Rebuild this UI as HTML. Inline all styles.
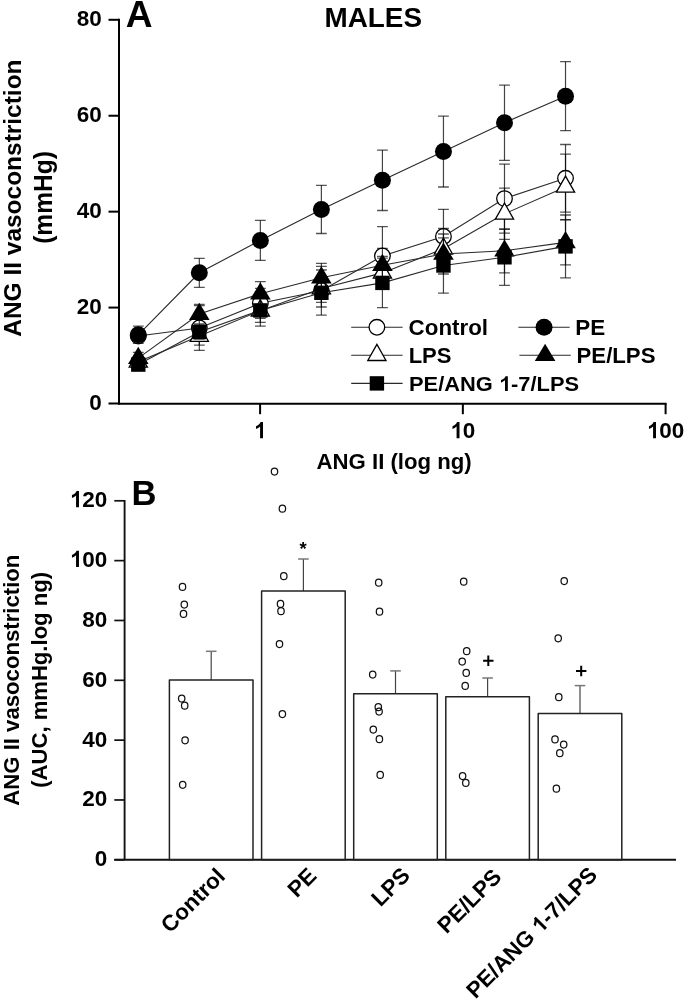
<!DOCTYPE html>
<html><head><meta charset="utf-8"><style>
html,body{margin:0;padding:0;background:#fff;}
svg{display:block;will-change:transform;}
text{font-family:"Liberation Sans",sans-serif;font-weight:bold;fill:#000;}
.m{mix-blend-mode:multiply;}
</style></head><body>
<svg width="685" height="1000" viewBox="0 0 685 1000">
<rect width="685" height="1000" fill="#fff"/>
<line x1="119.0" y1="18.8" x2="119.0" y2="404.5" stroke="#000" stroke-width="2"/>
<line x1="118.0" y1="403.8" x2="666.6" y2="403.8" stroke="#000" stroke-width="2"/>
<line x1="108.5" y1="403.50" x2="119.0" y2="403.50" stroke="#000" stroke-width="2"/>
<g transform="translate(101.65,409.92) scale(0.98,1)"><text font-size="22.96" text-anchor="end">0</text></g>
<line x1="108.5" y1="307.57" x2="119.0" y2="307.57" stroke="#000" stroke-width="2"/>
<g transform="translate(101.65,314.00) scale(0.98,1)"><text font-size="22.96" text-anchor="end">20</text></g>
<line x1="108.5" y1="211.65" x2="119.0" y2="211.65" stroke="#000" stroke-width="2"/>
<g transform="translate(101.65,218.07) scale(0.98,1)"><text font-size="22.96" text-anchor="end">40</text></g>
<line x1="108.5" y1="115.73" x2="119.0" y2="115.73" stroke="#000" stroke-width="2"/>
<g transform="translate(101.65,122.15) scale(0.98,1)"><text font-size="22.96" text-anchor="end">60</text></g>
<line x1="108.5" y1="19.80" x2="119.0" y2="19.80" stroke="#000" stroke-width="2"/>
<g transform="translate(101.65,26.22) scale(0.98,1)"><text font-size="22.96" text-anchor="end">80</text></g>
<line x1="260.10" y1="403.5" x2="260.10" y2="414.2" stroke="#000" stroke-width="2"/>
<g transform="translate(260.10,438.3) scale(0.98,1)"><text font-size="22.96" text-anchor="middle">&#8199;</text><path d="M407 0L278 0L278 515Q200 450 95 405L95 530Q190 565 245 620Q285 665 300 708L407 708Z" transform="translate(-6.39,0) scale(0.02296,-0.02296)"/></g>
<line x1="462.85" y1="403.5" x2="462.85" y2="414.2" stroke="#000" stroke-width="2"/>
<g transform="translate(462.85,438.3) scale(0.98,1)"><text font-size="22.96" text-anchor="middle">&#8199;0</text><path d="M407 0L278 0L278 515Q200 450 95 405L95 530Q190 565 245 620Q285 665 300 708L407 708Z" transform="translate(-12.77,0) scale(0.02296,-0.02296)"/></g>
<line x1="665.60" y1="403.5" x2="665.60" y2="414.2" stroke="#000" stroke-width="2"/>
<g transform="translate(665.60,438.3) scale(0.98,1)"><text font-size="22.96" text-anchor="middle">&#8199;00</text><path d="M407 0L278 0L278 515Q200 450 95 405L95 530Q190 565 245 620Q285 665 300 708L407 708Z" transform="translate(-19.16,0) scale(0.02296,-0.02296)"/></g>
<g transform="translate(125.79,27.27) scale(1.0138,1)"><text font-size="36.62">A</text></g>
<g transform="translate(324.45,27.02) scale(0.9847,1)"><text font-size="28.31">MALES</text></g>
<g transform="translate(316.53,468.91) scale(0.9936,1)"><text font-size="22.34">ANG II (log ng)</text></g>
<g transform="translate(21.01,336.73) rotate(-90) scale(1.0147,1)"><text font-size="24.12">ANG II vasoconstriction</text></g>
<g transform="translate(51.97,243.83) rotate(-90) scale(0.9879,1)"><text font-size="24.89">(mmHg)</text></g>
<polyline points="138.28,336.00 199.32,328.00 260.35,303.30 321.38,290.70 382.42,256.00 443.45,236.50 504.49,198.60 565.52,178.30" fill="none" stroke="#2a2a2a" stroke-width="1.1"/>
<path class="m" d="M138.28 331.00V341.00" stroke="#444" stroke-width="1.2" fill="none"/>
<path class="m" d="M132.88 331.00H143.68M132.88 341.00H143.68" stroke="#555" stroke-width="1.3" fill="none"/>
<path class="m" d="M199.32 305.60V350.40" stroke="#444" stroke-width="1.2" fill="none"/>
<path class="m" d="M193.92 305.60H204.72M193.92 350.40H204.72" stroke="#555" stroke-width="1.3" fill="none"/>
<path class="m" d="M260.35 288.30V318.30" stroke="#444" stroke-width="1.2" fill="none"/>
<path class="m" d="M254.95 288.30H265.75M254.95 318.30H265.75" stroke="#555" stroke-width="1.3" fill="none"/>
<path class="m" d="M321.38 266.30V315.10" stroke="#444" stroke-width="1.2" fill="none"/>
<path class="m" d="M315.98 266.30H326.78M315.98 315.10H326.78" stroke="#555" stroke-width="1.3" fill="none"/>
<path class="m" d="M382.42 226.60V285.40" stroke="#444" stroke-width="1.2" fill="none"/>
<path class="m" d="M377.02 226.60H387.82M377.02 285.40H387.82" stroke="#555" stroke-width="1.3" fill="none"/>
<path class="m" d="M443.45 209.30V263.70" stroke="#444" stroke-width="1.2" fill="none"/>
<path class="m" d="M438.05 209.30H448.85M438.05 263.70H448.85" stroke="#555" stroke-width="1.3" fill="none"/>
<path class="m" d="M504.49 164.10V233.10" stroke="#444" stroke-width="1.2" fill="none"/>
<path class="m" d="M499.09 164.10H509.89M499.09 233.10H509.89" stroke="#555" stroke-width="1.3" fill="none"/>
<path class="m" d="M565.52 144.50V212.10" stroke="#444" stroke-width="1.2" fill="none"/>
<path class="m" d="M560.12 144.50H570.92M560.12 212.10H570.92" stroke="#555" stroke-width="1.3" fill="none"/>
<circle cx="138.28" cy="336.00" r="7.8" fill="#fff" stroke="#000" stroke-width="1.3"/>
<circle cx="199.32" cy="328.00" r="7.8" fill="#fff" stroke="#000" stroke-width="1.3"/>
<circle cx="260.35" cy="303.30" r="7.8" fill="#fff" stroke="#000" stroke-width="1.3"/>
<circle cx="321.38" cy="290.70" r="7.8" fill="#fff" stroke="#000" stroke-width="1.3"/>
<circle cx="382.42" cy="256.00" r="7.8" fill="#fff" stroke="#000" stroke-width="1.3"/>
<circle cx="443.45" cy="236.50" r="7.8" fill="#fff" stroke="#000" stroke-width="1.3"/>
<circle cx="504.49" cy="198.60" r="7.8" fill="#fff" stroke="#000" stroke-width="1.3"/>
<circle cx="565.52" cy="178.30" r="7.8" fill="#fff" stroke="#000" stroke-width="1.3"/>
<polyline points="138.28,334.80 199.32,272.80 260.35,240.40 321.38,209.40 382.42,180.30 443.45,151.60 504.49,122.70 565.52,96.20" fill="none" stroke="#2a2a2a" stroke-width="1.1"/>
<path class="m" d="M138.28 326.20V343.40" stroke="#444" stroke-width="1.2" fill="none"/>
<path class="m" d="M132.88 326.20H143.68M132.88 343.40H143.68" stroke="#555" stroke-width="1.3" fill="none"/>
<path class="m" d="M199.32 258.30V287.30" stroke="#444" stroke-width="1.2" fill="none"/>
<path class="m" d="M193.92 258.30H204.72M193.92 287.30H204.72" stroke="#555" stroke-width="1.3" fill="none"/>
<path class="m" d="M260.35 220.40V260.40" stroke="#444" stroke-width="1.2" fill="none"/>
<path class="m" d="M254.95 220.40H265.75M254.95 260.40H265.75" stroke="#555" stroke-width="1.3" fill="none"/>
<path class="m" d="M321.38 185.30V233.50" stroke="#444" stroke-width="1.2" fill="none"/>
<path class="m" d="M315.98 185.30H326.78M315.98 233.50H326.78" stroke="#555" stroke-width="1.3" fill="none"/>
<path class="m" d="M382.42 150.10V210.50" stroke="#444" stroke-width="1.2" fill="none"/>
<path class="m" d="M377.02 150.10H387.82M377.02 210.50H387.82" stroke="#555" stroke-width="1.3" fill="none"/>
<path class="m" d="M443.45 116.20V187.00" stroke="#444" stroke-width="1.2" fill="none"/>
<path class="m" d="M438.05 116.20H448.85M438.05 187.00H448.85" stroke="#555" stroke-width="1.3" fill="none"/>
<path class="m" d="M504.49 85.10V160.30" stroke="#444" stroke-width="1.2" fill="none"/>
<path class="m" d="M499.09 85.10H509.89M499.09 160.30H509.89" stroke="#555" stroke-width="1.3" fill="none"/>
<path class="m" d="M565.52 61.70V130.70" stroke="#444" stroke-width="1.2" fill="none"/>
<path class="m" d="M560.12 61.70H570.92M560.12 130.70H570.92" stroke="#555" stroke-width="1.3" fill="none"/>
<circle cx="138.28" cy="334.80" r="8.5" fill="#000"/>
<circle cx="199.32" cy="272.80" r="8.5" fill="#000"/>
<circle cx="260.35" cy="240.40" r="8.5" fill="#000"/>
<circle cx="321.38" cy="209.40" r="8.5" fill="#000"/>
<circle cx="382.42" cy="180.30" r="8.5" fill="#000"/>
<circle cx="443.45" cy="151.60" r="8.5" fill="#000"/>
<circle cx="504.49" cy="122.70" r="8.5" fill="#000"/>
<circle cx="565.52" cy="96.20" r="8.5" fill="#000"/>
<polyline points="138.28,361.80 199.32,336.00 260.35,310.70 321.38,288.50 382.42,272.90 443.45,248.80 504.49,213.80 565.52,186.90" fill="none" stroke="#2a2a2a" stroke-width="1.1"/>
<path class="m" d="M138.28 356.80V366.80" stroke="#444" stroke-width="1.2" fill="none"/>
<path class="m" d="M132.88 356.80H143.68M132.88 366.80H143.68" stroke="#555" stroke-width="1.3" fill="none"/>
<path class="m" d="M199.32 326.80V345.20" stroke="#444" stroke-width="1.2" fill="none"/>
<path class="m" d="M193.92 326.80H204.72M193.92 345.20H204.72" stroke="#555" stroke-width="1.3" fill="none"/>
<path class="m" d="M260.35 295.20V326.20" stroke="#444" stroke-width="1.2" fill="none"/>
<path class="m" d="M254.95 295.20H265.75M254.95 326.20H265.75" stroke="#555" stroke-width="1.3" fill="none"/>
<path class="m" d="M321.38 270.00V307.00" stroke="#444" stroke-width="1.2" fill="none"/>
<path class="m" d="M315.98 270.00H326.78M315.98 307.00H326.78" stroke="#555" stroke-width="1.3" fill="none"/>
<path class="m" d="M382.42 256.40V289.40" stroke="#444" stroke-width="1.2" fill="none"/>
<path class="m" d="M377.02 256.40H387.82M377.02 289.40H387.82" stroke="#555" stroke-width="1.3" fill="none"/>
<path class="m" d="M443.45 228.50V269.10" stroke="#444" stroke-width="1.2" fill="none"/>
<path class="m" d="M438.05 228.50H448.85M438.05 269.10H448.85" stroke="#555" stroke-width="1.3" fill="none"/>
<path class="m" d="M504.49 188.20V239.40" stroke="#444" stroke-width="1.2" fill="none"/>
<path class="m" d="M499.09 188.20H509.89M499.09 239.40H509.89" stroke="#555" stroke-width="1.3" fill="none"/>
<path class="m" d="M565.52 154.10V219.70" stroke="#444" stroke-width="1.2" fill="none"/>
<path class="m" d="M560.12 154.10H570.92M560.12 219.70H570.92" stroke="#555" stroke-width="1.3" fill="none"/>
<polygon points="138.28,351.00 147.38,367.10 129.18,367.10" fill="#fff" stroke="#000" stroke-width="1.3" stroke-linejoin="miter"/>
<polygon points="199.32,325.20 208.42,341.30 190.22,341.30" fill="#fff" stroke="#000" stroke-width="1.3" stroke-linejoin="miter"/>
<polygon points="260.35,299.90 269.45,316.00 251.25,316.00" fill="#fff" stroke="#000" stroke-width="1.3" stroke-linejoin="miter"/>
<polygon points="321.38,277.70 330.48,293.80 312.28,293.80" fill="#fff" stroke="#000" stroke-width="1.3" stroke-linejoin="miter"/>
<polygon points="382.42,262.10 391.52,278.20 373.32,278.20" fill="#fff" stroke="#000" stroke-width="1.3" stroke-linejoin="miter"/>
<polygon points="443.45,238.00 452.55,254.10 434.35,254.10" fill="#fff" stroke="#000" stroke-width="1.3" stroke-linejoin="miter"/>
<polygon points="504.49,203.00 513.59,219.10 495.39,219.10" fill="#fff" stroke="#000" stroke-width="1.3" stroke-linejoin="miter"/>
<polygon points="565.52,176.10 574.62,192.20 556.42,192.20" fill="#fff" stroke="#000" stroke-width="1.3" stroke-linejoin="miter"/>
<polyline points="138.28,358.10 199.32,314.10 260.35,293.70 321.38,277.70 382.42,265.20 443.45,254.00 504.49,250.80 565.52,242.40" fill="none" stroke="#2a2a2a" stroke-width="1.1"/>
<path class="m" d="M138.28 352.30V363.90" stroke="#444" stroke-width="1.2" fill="none"/>
<path class="m" d="M132.88 352.30H143.68M132.88 363.90H143.68" stroke="#555" stroke-width="1.3" fill="none"/>
<path class="m" d="M199.32 304.40V323.80" stroke="#444" stroke-width="1.2" fill="none"/>
<path class="m" d="M193.92 304.40H204.72M193.92 323.80H204.72" stroke="#555" stroke-width="1.3" fill="none"/>
<path class="m" d="M260.35 281.70V305.70" stroke="#444" stroke-width="1.2" fill="none"/>
<path class="m" d="M254.95 281.70H265.75M254.95 305.70H265.75" stroke="#555" stroke-width="1.3" fill="none"/>
<path class="m" d="M321.38 263.30V292.10" stroke="#444" stroke-width="1.2" fill="none"/>
<path class="m" d="M315.98 263.30H326.78M315.98 292.10H326.78" stroke="#555" stroke-width="1.3" fill="none"/>
<path class="m" d="M382.42 248.40V282.00" stroke="#444" stroke-width="1.2" fill="none"/>
<path class="m" d="M377.02 248.40H387.82M377.02 282.00H387.82" stroke="#555" stroke-width="1.3" fill="none"/>
<path class="m" d="M443.45 234.00V274.00" stroke="#444" stroke-width="1.2" fill="none"/>
<path class="m" d="M438.05 234.00H448.85M438.05 274.00H448.85" stroke="#555" stroke-width="1.3" fill="none"/>
<path class="m" d="M504.49 228.80V272.80" stroke="#444" stroke-width="1.2" fill="none"/>
<path class="m" d="M499.09 228.80H509.89M499.09 272.80H509.89" stroke="#555" stroke-width="1.3" fill="none"/>
<path class="m" d="M565.52 219.90V264.90" stroke="#444" stroke-width="1.2" fill="none"/>
<path class="m" d="M560.12 219.90H570.92M560.12 264.90H570.92" stroke="#555" stroke-width="1.3" fill="none"/>
<polygon points="138.28,346.70 148.58,363.90 127.98,363.90" fill="#000"/>
<polygon points="199.32,302.70 209.62,319.90 189.02,319.90" fill="#000"/>
<polygon points="260.35,282.30 270.65,299.50 250.05,299.50" fill="#000"/>
<polygon points="321.38,266.30 331.68,283.50 311.08,283.50" fill="#000"/>
<polygon points="382.42,253.80 392.72,271.00 372.12,271.00" fill="#000"/>
<polygon points="443.45,242.60 453.75,259.80 433.15,259.80" fill="#000"/>
<polygon points="504.49,239.40 514.79,256.60 494.19,256.60" fill="#000"/>
<polygon points="565.52,231.00 575.82,248.20 555.22,248.20" fill="#000"/>
<polyline points="138.28,364.60 199.32,332.00 260.35,310.40 321.38,292.80 382.42,282.90 443.45,265.50 504.49,257.30 565.52,246.40" fill="none" stroke="#2a2a2a" stroke-width="1.1"/>
<path class="m" d="M138.28 360.60V368.60" stroke="#444" stroke-width="1.2" fill="none"/>
<path class="m" d="M132.88 360.60H143.68M132.88 368.60H143.68" stroke="#555" stroke-width="1.3" fill="none"/>
<path class="m" d="M199.32 325.00V339.00" stroke="#444" stroke-width="1.2" fill="none"/>
<path class="m" d="M193.92 325.00H204.72M193.92 339.00H204.72" stroke="#555" stroke-width="1.3" fill="none"/>
<path class="m" d="M260.35 298.40V322.40" stroke="#444" stroke-width="1.2" fill="none"/>
<path class="m" d="M254.95 298.40H265.75M254.95 322.40H265.75" stroke="#555" stroke-width="1.3" fill="none"/>
<path class="m" d="M321.38 283.30V302.30" stroke="#444" stroke-width="1.2" fill="none"/>
<path class="m" d="M315.98 283.30H326.78M315.98 302.30H326.78" stroke="#555" stroke-width="1.3" fill="none"/>
<path class="m" d="M382.42 258.10V307.70" stroke="#444" stroke-width="1.2" fill="none"/>
<path class="m" d="M377.02 258.10H387.82M377.02 307.70H387.82" stroke="#555" stroke-width="1.3" fill="none"/>
<path class="m" d="M443.45 237.80V293.20" stroke="#444" stroke-width="1.2" fill="none"/>
<path class="m" d="M438.05 237.80H448.85M438.05 293.20H448.85" stroke="#555" stroke-width="1.3" fill="none"/>
<path class="m" d="M504.49 229.30V285.30" stroke="#444" stroke-width="1.2" fill="none"/>
<path class="m" d="M499.09 229.30H509.89M499.09 285.30H509.89" stroke="#555" stroke-width="1.3" fill="none"/>
<path class="m" d="M565.52 215.00V277.80" stroke="#444" stroke-width="1.2" fill="none"/>
<path class="m" d="M560.12 215.00H570.92M560.12 277.80H570.92" stroke="#555" stroke-width="1.3" fill="none"/>
<rect x="131.08" y="357.40" width="14.40" height="14.40" fill="#000"/>
<rect x="192.12" y="324.80" width="14.40" height="14.40" fill="#000"/>
<rect x="253.15" y="303.20" width="14.40" height="14.40" fill="#000"/>
<rect x="314.18" y="285.60" width="14.40" height="14.40" fill="#000"/>
<rect x="375.22" y="275.70" width="14.40" height="14.40" fill="#000"/>
<rect x="436.25" y="258.30" width="14.40" height="14.40" fill="#000"/>
<rect x="497.29" y="250.10" width="14.40" height="14.40" fill="#000"/>
<rect x="558.32" y="239.20" width="14.40" height="14.40" fill="#000"/>
<line x1="351.2" y1="327.3" x2="402.6" y2="327.3" stroke="#2a2a2a" stroke-width="1.1"/>
<circle cx="376.90" cy="327.30" r="7.8" fill="#fff" stroke="#000" stroke-width="1.3"/>
<g transform="translate(408.61,334.59) scale(1.0537,1)"><text font-size="21.22">Control</text></g>
<line x1="518.4" y1="327.2" x2="569.7" y2="327.2" stroke="#2a2a2a" stroke-width="1.1"/>
<circle cx="544.05" cy="327.20" r="8.5" fill="#000"/>
<g transform="translate(575.23,335.00) scale(0.9799,1)"><text font-size="22.90">PE</text></g>
<line x1="351.2" y1="355.2" x2="402.6" y2="355.2" stroke="#2a2a2a" stroke-width="1.1"/>
<polygon points="376.90,344.40 386.00,360.50 367.80,360.50" fill="#fff" stroke="#000" stroke-width="1.3" stroke-linejoin="miter"/>
<g transform="translate(408.66,362.68) scale(1.0153,1)"><text font-size="21.69">LPS</text></g>
<line x1="519.4" y1="355.2" x2="570.8" y2="355.2" stroke="#2a2a2a" stroke-width="1.1"/>
<polygon points="545.10,343.80 555.40,361.00 534.80,361.00" fill="#000"/>
<g transform="translate(576.55,362.78) scale(0.9898,1)"><text font-size="22.43">PE/LPS</text></g>
<line x1="351.2" y1="383.4" x2="402.6" y2="383.4" stroke="#2a2a2a" stroke-width="1.1"/>
<rect x="369.70" y="376.20" width="14.40" height="14.40" fill="#000"/>
<g transform="translate(408.97,391.09) scale(1.0513,1)"><text font-size="20.81">PE/ANG &#8199;-7/LPS</text><path d="M407 0L278 0L278 515Q200 450 95 405L95 530Q190 565 245 620Q285 665 300 708L407 708Z" transform="translate(85.57,0) scale(0.02081,-0.02081)"/></g>
<line x1="124.6" y1="500.0" x2="124.6" y2="859.8" stroke="#111" stroke-width="1.9"/>
<line x1="114.3" y1="859.8" x2="676" y2="859.8" stroke="#111" stroke-width="2"/>
<line x1="114.3" y1="859.80" x2="124.6" y2="859.80" stroke="#111" stroke-width="1.7"/>
<g transform="translate(107.35,866.22) scale(0.98,1)"><text font-size="22.96" text-anchor="end">0</text></g>
<line x1="114.3" y1="799.97" x2="124.6" y2="799.97" stroke="#111" stroke-width="1.7"/>
<g transform="translate(107.35,806.39) scale(0.98,1)"><text font-size="22.96" text-anchor="end">20</text></g>
<line x1="114.3" y1="740.13" x2="124.6" y2="740.13" stroke="#111" stroke-width="1.7"/>
<g transform="translate(107.35,746.55) scale(0.98,1)"><text font-size="22.96" text-anchor="end">40</text></g>
<line x1="114.3" y1="680.30" x2="124.6" y2="680.30" stroke="#111" stroke-width="1.7"/>
<g transform="translate(107.35,686.72) scale(0.98,1)"><text font-size="22.96" text-anchor="end">60</text></g>
<line x1="114.3" y1="620.47" x2="124.6" y2="620.47" stroke="#111" stroke-width="1.7"/>
<g transform="translate(107.35,626.89) scale(0.98,1)"><text font-size="22.96" text-anchor="end">80</text></g>
<line x1="114.3" y1="560.63" x2="124.6" y2="560.63" stroke="#111" stroke-width="1.7"/>
<g transform="translate(107.35,567.05) scale(0.98,1)"><text font-size="22.96" text-anchor="end">&#8199;00</text><path d="M407 0L278 0L278 515Q200 450 95 405L95 530Q190 565 245 620Q285 665 300 708L407 708Z" transform="translate(-38.31,0) scale(0.02296,-0.02296)"/></g>
<line x1="114.3" y1="500.80" x2="124.6" y2="500.80" stroke="#111" stroke-width="1.7"/>
<g transform="translate(107.35,507.22) scale(0.98,1)"><text font-size="22.96" text-anchor="end">&#8199;20</text><path d="M407 0L278 0L278 515Q200 450 95 405L95 530Q190 565 245 620Q285 665 300 708L407 708Z" transform="translate(-38.31,0) scale(0.02296,-0.02296)"/></g>
<g transform="translate(131.38,504.90) scale(0.9903,1)"><text font-size="34.93">B</text></g>
<g transform="translate(18.58,805.77) rotate(-90) scale(1.0131,1)"><text font-size="21.89">ANG II vasoconstriction</text></g>
<g transform="translate(46.62,787.80) rotate(-90) scale(1.0132,1)"><text font-size="21.81">(AUC, mmHg.log ng)</text></g>
<line x1="211.20" y1="651.30" x2="211.20" y2="679.90" stroke="#444" stroke-width="1.2"/>
<line x1="205.90" y1="651.30" x2="216.50" y2="651.30" stroke="#777" stroke-width="1.5"/>
<rect x="169.40" y="679.90" width="83.6" height="179.90" fill="none" stroke="#222" stroke-width="1.5" stroke-linejoin="round"/>
<ellipse cx="182.50" cy="586.90" rx="3.2" ry="3.5" fill="none" stroke="#111" stroke-width="1.25"/>
<ellipse cx="184.30" cy="604.50" rx="3.2" ry="3.5" fill="none" stroke="#111" stroke-width="1.25"/>
<ellipse cx="183.50" cy="613.90" rx="3.2" ry="3.5" fill="none" stroke="#111" stroke-width="1.25"/>
<ellipse cx="181.70" cy="698.50" rx="3.2" ry="3.5" fill="none" stroke="#111" stroke-width="1.25"/>
<ellipse cx="184.70" cy="705.70" rx="3.2" ry="3.5" fill="none" stroke="#111" stroke-width="1.25"/>
<ellipse cx="185.10" cy="740.30" rx="3.2" ry="3.5" fill="none" stroke="#111" stroke-width="1.25"/>
<ellipse cx="182.70" cy="784.80" rx="3.2" ry="3.5" fill="none" stroke="#111" stroke-width="1.25"/>
<line x1="303.40" y1="559.00" x2="303.40" y2="590.90" stroke="#444" stroke-width="1.2"/>
<line x1="298.10" y1="559.00" x2="308.70" y2="559.00" stroke="#777" stroke-width="1.5"/>
<rect x="261.60" y="590.90" width="83.6" height="268.90" fill="none" stroke="#222" stroke-width="1.5" stroke-linejoin="round"/>
<ellipse cx="274.50" cy="471.50" rx="3.2" ry="3.5" fill="none" stroke="#111" stroke-width="1.25"/>
<ellipse cx="282.40" cy="508.70" rx="3.2" ry="3.5" fill="none" stroke="#111" stroke-width="1.25"/>
<ellipse cx="283.80" cy="576.20" rx="3.2" ry="3.5" fill="none" stroke="#111" stroke-width="1.25"/>
<ellipse cx="280.50" cy="603.90" rx="3.2" ry="3.5" fill="none" stroke="#111" stroke-width="1.25"/>
<ellipse cx="281.00" cy="611.20" rx="3.2" ry="3.5" fill="none" stroke="#111" stroke-width="1.25"/>
<ellipse cx="279.50" cy="644.00" rx="3.2" ry="3.5" fill="none" stroke="#111" stroke-width="1.25"/>
<ellipse cx="282.40" cy="714.10" rx="3.2" ry="3.5" fill="none" stroke="#111" stroke-width="1.25"/>
<line x1="395.50" y1="670.90" x2="395.50" y2="693.70" stroke="#444" stroke-width="1.2"/>
<line x1="390.20" y1="670.90" x2="400.80" y2="670.90" stroke="#777" stroke-width="1.5"/>
<rect x="353.70" y="693.70" width="83.6" height="166.10" fill="none" stroke="#222" stroke-width="1.5" stroke-linejoin="round"/>
<ellipse cx="378.70" cy="582.70" rx="3.2" ry="3.5" fill="none" stroke="#111" stroke-width="1.25"/>
<ellipse cx="379.50" cy="611.70" rx="3.2" ry="3.5" fill="none" stroke="#111" stroke-width="1.25"/>
<ellipse cx="372.70" cy="674.50" rx="3.2" ry="3.5" fill="none" stroke="#111" stroke-width="1.25"/>
<ellipse cx="378.30" cy="707.20" rx="3.2" ry="3.5" fill="none" stroke="#111" stroke-width="1.25"/>
<ellipse cx="379.10" cy="711.50" rx="3.2" ry="3.5" fill="none" stroke="#111" stroke-width="1.25"/>
<ellipse cx="373.30" cy="729.60" rx="3.2" ry="3.5" fill="none" stroke="#111" stroke-width="1.25"/>
<ellipse cx="379.40" cy="739.20" rx="3.2" ry="3.5" fill="none" stroke="#111" stroke-width="1.25"/>
<ellipse cx="380.20" cy="774.90" rx="3.2" ry="3.5" fill="none" stroke="#111" stroke-width="1.25"/>
<line x1="487.60" y1="678.00" x2="487.60" y2="696.70" stroke="#444" stroke-width="1.2"/>
<line x1="482.30" y1="678.00" x2="492.90" y2="678.00" stroke="#777" stroke-width="1.5"/>
<rect x="445.80" y="696.70" width="83.6" height="163.10" fill="none" stroke="#222" stroke-width="1.5" stroke-linejoin="round"/>
<ellipse cx="463.70" cy="581.70" rx="3.2" ry="3.5" fill="none" stroke="#111" stroke-width="1.25"/>
<ellipse cx="466.70" cy="651.20" rx="3.2" ry="3.5" fill="none" stroke="#111" stroke-width="1.25"/>
<ellipse cx="462.20" cy="661.60" rx="3.2" ry="3.5" fill="none" stroke="#111" stroke-width="1.25"/>
<ellipse cx="466.20" cy="672.90" rx="3.2" ry="3.5" fill="none" stroke="#111" stroke-width="1.25"/>
<ellipse cx="465.20" cy="685.90" rx="3.2" ry="3.5" fill="none" stroke="#111" stroke-width="1.25"/>
<ellipse cx="462.60" cy="776.00" rx="3.2" ry="3.5" fill="none" stroke="#111" stroke-width="1.25"/>
<ellipse cx="465.80" cy="782.90" rx="3.2" ry="3.5" fill="none" stroke="#111" stroke-width="1.25"/>
<line x1="580.00" y1="685.60" x2="580.00" y2="713.60" stroke="#444" stroke-width="1.2"/>
<line x1="574.70" y1="685.60" x2="585.30" y2="685.60" stroke="#777" stroke-width="1.5"/>
<rect x="538.20" y="713.60" width="83.6" height="146.20" fill="none" stroke="#222" stroke-width="1.5" stroke-linejoin="round"/>
<ellipse cx="564.20" cy="581.00" rx="3.2" ry="3.5" fill="none" stroke="#111" stroke-width="1.25"/>
<ellipse cx="558.20" cy="638.30" rx="3.2" ry="3.5" fill="none" stroke="#111" stroke-width="1.25"/>
<ellipse cx="558.80" cy="697.20" rx="3.2" ry="3.5" fill="none" stroke="#111" stroke-width="1.25"/>
<ellipse cx="555.00" cy="739.40" rx="3.2" ry="3.5" fill="none" stroke="#111" stroke-width="1.25"/>
<ellipse cx="563.70" cy="744.50" rx="3.2" ry="3.5" fill="none" stroke="#111" stroke-width="1.25"/>
<ellipse cx="559.80" cy="753.20" rx="3.2" ry="3.5" fill="none" stroke="#111" stroke-width="1.25"/>
<ellipse cx="556.40" cy="788.70" rx="3.2" ry="3.5" fill="none" stroke="#111" stroke-width="1.25"/>
<g transform="translate(299.40,554.68) scale(1.0045,1)"><text font-size="18.38">*</text></g>
<path d="M483.10 660.70H493.50M488.30 655.50V665.90" stroke="#000" stroke-width="2"/>
<path d="M576.00 671.00H586.40M581.20 665.80V676.20" stroke="#000" stroke-width="2"/>
<g transform="translate(226.40,877.60) rotate(-45)"><text font-size="22.40" text-anchor="end">Control</text></g>
<g transform="translate(317.90,877.30) rotate(-45)"><text font-size="22.40" text-anchor="end">PE</text></g>
<g transform="translate(411.40,876.80) rotate(-45)"><text font-size="22.40" text-anchor="end">LPS</text></g>
<g transform="translate(502.90,878.20) rotate(-45)"><text font-size="22.40" text-anchor="end">PE/LPS</text></g>
<g transform="translate(598.60,876.20) rotate(-45)"><text font-size="22.40" text-anchor="end">PE/ANG &#8199;-7/LPS</text><path d="M407 0L278 0L278 515Q200 450 95 405L95 530Q190 565 245 620Q285 665 300 708L407 708Z" transform="translate(-82.17,0) scale(0.02240,-0.02240)"/></g>
</svg>
</body></html>
